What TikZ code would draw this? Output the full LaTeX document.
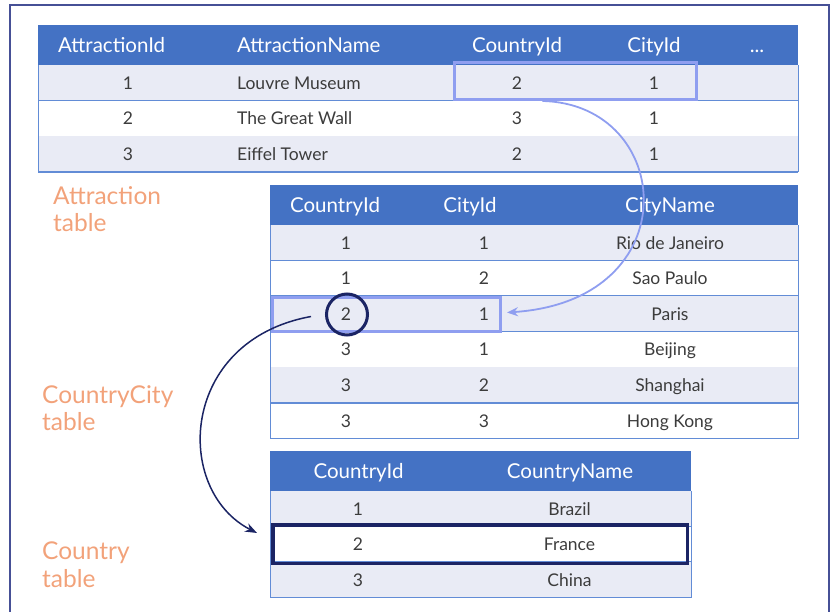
\documentclass[tikz,border=0pt]{standalone}
\usepackage{fontspec}
\setmainfont{Lato}
\usetikzlibrary{arrows.meta, positioning}
\definecolor{HeadBlue}{RGB}{68,114,196}
\definecolor{BandGray}{RGB}{233,235,245}
\definecolor{RuleBlue}{RGB}{98,140,214}
\definecolor{LinkBlue}{RGB}{143,158,240}
\definecolor{DeepNavy}{RGB}{27,36,100}
\definecolor{TagOrange}{RGB}{242,162,122}
\definecolor{InkGray}{RGB}{60,60,60}
\definecolor{FrameNavy}{RGB}{70,80,150}

\begin{document}
\begin{tikzpicture}[x=1pt, y=-1pt,
    headtxt/.style={text=white, font=\fontsize{20.5}{24}\selectfont, inner sep=0pt, anchor=base},
    celltxt/.style={text=InkGray, font=\fontsize{17.5}{21}\selectfont, inner sep=0pt, anchor=base},
    tabletag/.style={text=TagOrange, font=\fontsize{24.5}{27.5}\selectfont, align=left, inner sep=0pt, anchor=base west},
    rowrule/.style={draw=RuleBlue, line width=1.4pt},
    tableedge/.style={draw=RuleBlue, line width=1pt},
    linkbox/.style={draw=LinkBlue, line width=3pt, inner sep=0pt},
    pickbox/.style={draw=DeepNavy, line width=3.5pt, inner sep=0pt},
    linkarrow/.style={draw=LinkBlue, line width=1.8pt, -{Stealth[length=11pt, width=9pt]}},
    pickarrow/.style={draw=DeepNavy, line width=1.5pt, -{Stealth[length=12pt, width=9pt]}}
  ]
  \useasboundingbox (0,0) rectangle (833,612);
  \draw[FrameNavy, line width=2pt] (10,612) -- (10,5) -- (829,5) -- (829,612);

  % Attraction table
  \fill[HeadBlue] (38,25) rectangle (798,65);
  \node[headtxt, anchor=base west] (att-h1) at (58,52.5) {AttractionId};
  \node[headtxt, anchor=base west] (att-h2) at (237,52.5) {AttractionName};
  \node[headtxt] (att-h3) at (517,52.5) {CountryId};
  \node[headtxt] (att-h4) at (654,52.5) {CityId};
  \node[headtxt] (att-h5) at (757,52.5) {...};
  \foreach \aid/\aname/\cid/\tid [count=\i] in {1/Louvre Museum/2/1, 2/The Great Wall/3/1, 3/Eiffel Tower/2/1} {
    \pgfmathsetmacro{\yt}{65+35.67*(\i-1)}
    \ifodd\i\relax \fill[BandGray] (38,\yt) rectangle (798,\yt+35.67); \fi
    \draw[rowrule] (38,\yt+35.67) -- (798,\yt+35.67);
    \node[celltxt] (att-\i-1) at (128,\yt+24.1) {\aid};
    \node[celltxt, anchor=base west] (att-\i-2) at (237,\yt+24.1) {\aname};
    \node[celltxt] (att-\i-3) at (517,\yt+24.1) {\cid};
    \node[celltxt] (att-\i-4) at (654,\yt+24.1) {\tid};
  }
  \draw[tableedge] (38,65) -- (38,172) -- (798,172) -- (798,65);

  % CountryCity table
  \fill[HeadBlue] (270,185) rectangle (798,225);
  \node[headtxt] (cc-h1) at (335,212.5) {CountryId};
  \node[headtxt] (cc-h2) at (470,212.5) {CityId};
  \node[headtxt] (cc-h3) at (670,212.5) {CityName};
  \foreach \cid/\tid/\tname [count=\i] in {1/1/Rio de Janeiro, 1/2/Sao Paulo, 2/1/Paris, 3/1/Beijing, 3/2/Shanghai, 3/3/Hong Kong} {
    \pgfmathsetmacro{\yt}{225+35.6*(\i-1)}
    \ifodd\i\relax \fill[BandGray] (270,\yt) rectangle (798,\yt+35.6); \fi
    \draw[rowrule] (270,\yt+35.6) -- (798,\yt+35.6);
    \node[celltxt] (cc-\i-1) at (346,\yt+24.1) {\cid};
    \node[celltxt] (cc-\i-2) at (484,\yt+24.1) {\tid};
    \node[celltxt] (cc-\i-3) at (670,\yt+24.1) {\tname};
  }
  \draw[tableedge] (270,225) -- (270,438.6) -- (798,438.6) -- (798,225);

  % Country table
  \fill[HeadBlue] (270,451) rectangle (691,491);
  \node[headtxt] (co-h1) at (358.5,478.5) {CountryId};
  \node[headtxt] (co-h2) at (570,478.5) {CountryName};
  \foreach \cid/\cname [count=\i] in {1/Brazil, 2/France, 3/China} {
    \pgfmathsetmacro{\yt}{491+35.5*(\i-1)}
    \ifodd\i\relax \fill[BandGray] (270,\yt) rectangle (691,\yt+35.5); \fi
    \draw[rowrule] (270,\yt+35.5) -- (691,\yt+35.5);
    \node[celltxt] (co-\i-1) at (358,\yt+24.1) {\cid};
    \node[celltxt] (co-\i-2) at (569.5,\yt+24.1) {\cname};
  }
  \draw[tableedge] (270,491) -- (270,597.5) -- (691,597.5) -- (691,491);

  % table names (base = last line)
  \node[tabletag] (tagA) at (53,232) {Attraction\\table};
  \node[tabletag] (tagB) at (42,430.5) {CountryCity\\table};
  \node[tabletag] (tagC) at (42,587) {Country\\table};

  % highlights
  \node[linkbox, minimum width=242pt, minimum height=37pt] (hlA) at (575.5,81) {};
  \node[linkbox, minimum width=228pt, minimum height=34pt] (hlB) at (386.5,314.5) {};
  \node[draw=DeepNavy, line width=3pt, circle, minimum size=41pt, inner sep=0pt] (circ) at (347,314.5) {};
  \node[pickbox, minimum width=414.5pt, minimum height=38.5pt] (hlC) at (480,544) {};

  \draw[linkarrow] ([xshift=-33pt]hlA.south) .. controls +(132,3) and +(183,-12) .. ([xshift=5pt,yshift=2pt]hlB.east);
  \draw[pickarrow] ([xshift=-14pt,yshift=-2pt]circ.west) .. controls +(-132,24) and +(-84,-43) .. ([xshift=-14pt,yshift=11pt]hlC.west);
\end{tikzpicture}
\end{document}
